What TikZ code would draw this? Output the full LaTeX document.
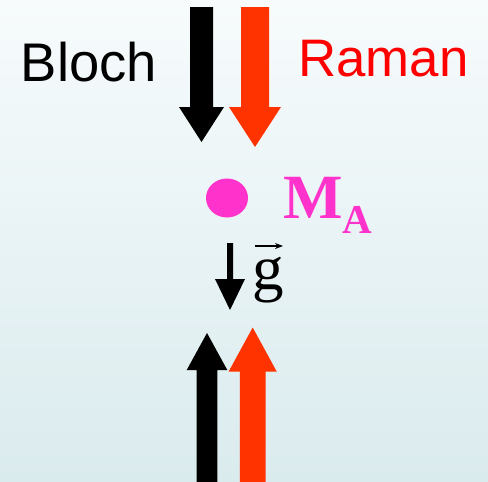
\documentclass[tikz,border=0pt]{standalone}
\usepackage{fontspec}
\setmainfont{Liberation Sans}
\newfontfamily\timesfont{Liberation Serif}
\usetikzlibrary{arrows.meta,positioning,shapes.geometric}

\definecolor{ramanred}{HTML}{FF3300}
\definecolor{ramantext}{HTML}{FF0000}
\definecolor{atompink}{HTML}{FF33CC}
\definecolor{bgtop}{HTML}{F7FBFC}
\definecolor{bgbottom}{HTML}{DAEBEE}

% beam arrow: colour, centre x, tail y, head base y, tip y, half shaft, half head
\newcommand{\beamarrow}[7]{%
  \fill[#1] (#2-#6,#3) -- (#2+#6,#3) -- (#2+#6,#4) -- (#2+#7,#4)
    -- (#2,#5) -- (#2-#7,#4) -- (#2-#6,#4) -- cycle;}

\begin{document}
\begin{tikzpicture}[x=0.5pt, y=-0.5pt, >=Stealth,
    lbl/.style={inner sep=0pt, anchor=base west}]
    % Background
    \shade[top color=bgtop, bottom color=bgbottom] (0,0) rectangle (488,482);
    \useasboundingbox (0,0) rectangle (488,482);
    
    % Labels of the two beams
    \node[lbl] (bloch) at (20.5,81) {\fontsize{27.2}{30}\selectfont Bloch};
    \node[lbl, text=ramantext] (raman) at (298,76) {\fontsize{26.4}{30}\selectfont Raman};
    
    % Downward beams
    \beamarrow{black}{201.5}{7}{107}{142}{11.5}{22.5}
    \beamarrow{ramanred}{255}{7}{107}{147}{14}{26}
    
    % Upward beams
    \beamarrow{black}{207}{482}{370}{333}{10.3}{20.3}
    \beamarrow{ramanred}{252.7}{482}{371.5}{327.5}{12.8}{24}
    
    % Atom
    \node[ellipse, fill=atompink, inner sep=0pt, minimum width=21pt, minimum height=19.5pt] (atom) at (227,198) {};
    \node[lbl, text=atompink] (mass) at (283,218)
        {\timesfont\bfseries\fontsize{31.5}{34}\selectfont M\lower7.5pt\hbox{\fontsize{20.5}{22}\selectfont A}};
    
    % Gravity
    \beamarrow{black}{230}{243}{279}{310}{3}{15}
    \node[lbl] (grav) at (252,289) {\timesfont\fontsize{31.5}{34}\selectfont g};
    \coordinate (vecL) at (255,246);
    \coordinate (vecR) at (283,246);
    \draw[line width=0.8pt, -{Stealth[length=4pt, width=3pt]}] (vecL) -- (vecR);
\end{tikzpicture}
\end{document}
